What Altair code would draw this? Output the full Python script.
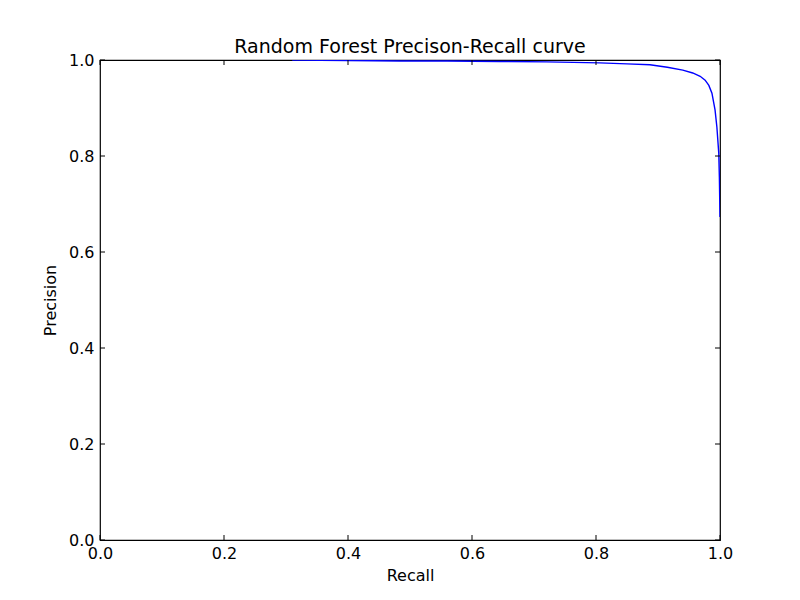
import altair as alt
import pandas as pd

recall = [0.31, 0.40, 0.484, 0.56, 0.645, 0.72, 0.806, 0.85, 0.887, 0.915,
          0.94, 0.956, 0.968, 0.976, 0.982, 0.987, 0.992, 0.995, 0.998, 0.999, 1.0]
precision = [1.0, 0.999, 0.998, 0.998, 0.997, 0.996, 0.994, 0.992, 0.990, 0.985,
             0.979, 0.973, 0.966, 0.958, 0.947, 0.931, 0.896, 0.860, 0.806, 0.756, 0.673]
ticks = [0.0, 0.2, 0.4, 0.6, 0.8, 1.0]

FONT = "DejaVu Sans"
W, H = 620, 480

df = pd.DataFrame({"recall": recall, "precision": precision, "i": range(len(recall))})
tdf = pd.DataFrame({"t": ticks})

xscale = alt.Scale(domain=[0, 1], nice=False, zero=False)
yscale = alt.Scale(domain=[0, 1], nice=False, zero=False)

line = alt.Chart(df).mark_line(color="#0000ff", strokeWidth=1.4, clip=True).encode(
    x=alt.X("recall:Q", scale=xscale, title="Recall",
            axis=alt.Axis(values=ticks, format=".1f", grid=False, domain=False, ticks=False,
                          labelFont=FONT, labelFontSize=16, labelColor="black", labelPadding=5,
                          titleFont=FONT, titleFontSize=16, titleFontWeight="normal",
                          titleColor="black", titlePadding=6, labelFlush=False)),
    y=alt.Y("precision:Q", scale=yscale, title="Precision",
            axis=alt.Axis(values=ticks, format=".1f", grid=False, domain=False, ticks=False,
                          labelFont=FONT, labelFontSize=16, labelColor="black", labelPadding=6,
                          titleFont=FONT, titleFontSize=16, titleFontWeight="normal",
                          titleColor="black", titlePadding=10, labelFlush=False)),
    order="i:Q",
)

tk = dict(color="black", strokeWidth=1)
xb = alt.Chart(tdf).mark_rule(**tk).encode(x=alt.X("t:Q", scale=xscale), y=alt.value(H), y2=alt.value(H - 5))
xt = alt.Chart(tdf).mark_rule(**tk).encode(x=alt.X("t:Q", scale=xscale), y=alt.value(0), y2=alt.value(5))
yl = alt.Chart(tdf).mark_rule(**tk).encode(y=alt.Y("t:Q", scale=yscale), x=alt.value(0), x2=alt.value(5))
yr = alt.Chart(tdf).mark_rule(**tk).encode(y=alt.Y("t:Q", scale=yscale), x=alt.value(W), x2=alt.value(W - 5))

chart = alt.layer(line, xb, xt, yl, yr).properties(
    width=W, height=H,
    title=alt.TitleParams("Random Forest Precison-Recall curve", font=FONT, fontSize=19,
                          fontWeight="normal", color="black", offset=6, dy=11),
    autosize=alt.AutoSizeParams(type="none"),
    padding={"left": 92, "top": 52, "right": 72, "bottom": 60},
).configure(background="white").configure_view(stroke="black", strokeWidth=1.2)

chart.save("out.html", embed_options={"renderer": "svg", "actions": False})
